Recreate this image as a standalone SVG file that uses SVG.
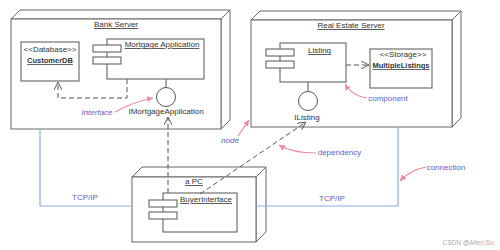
<svg xmlns="http://www.w3.org/2000/svg" width="500" height="250" viewBox="0 0 500 250">
<defs>
<style>
.nd{fill:#fff;stroke:#666;stroke-width:1}
.bx{fill:#fff;stroke:#555;stroke-width:1}
.t{font-family:"Liberation Sans",Arial,sans-serif;font-size:8px;fill:#333;text-anchor:middle}
.u{text-decoration:underline}
.b{font-weight:bold;font-size:7.5px}
.lb{font-family:"Liberation Sans",Arial,sans-serif;font-size:8px;fill:#5a64c8;text-anchor:middle}
.it{font-style:italic}
.dep{fill:none;stroke:#555;stroke-width:1;stroke-dasharray:5,3}
.con{fill:none;stroke:#8aaede;stroke-width:1.2}
.pk{fill:none;stroke:#e88ca2;stroke-width:1.2}
.wm{font-family:"Liberation Sans",Arial,sans-serif;font-size:6.5px;fill:#aaa;text-anchor:middle}
</style>
<marker id="open" viewBox="0 0 10 10" refX="10" refY="5" markerWidth="8" markerHeight="8" orient="auto" markerUnits="userSpaceOnUse">
<path d="M0,0 L10,5 L0,10" fill="none" stroke="#555" stroke-width="1.2"/>
</marker>
<marker id="pa" viewBox="0 0 10 10" refX="10" refY="5" markerWidth="6" markerHeight="6" orient="auto" markerUnits="userSpaceOnUse">
<path d="M0,0 L10,5 L0,10 Z" fill="#e88ca2"/>
</marker>
</defs>
<rect width="500" height="250" fill="#fff"/>

<g id="bank-server">
<path class="nd" d="M11,19 L20,10 L230,10 L221,19 Z"/>
<path class="nd" d="M221,19 L230,10 L230,120 L221,129 Z"/>
<rect class="nd" x="11" y="19" width="210" height="110"/>
<text class="t u" x="116" y="27">Bank Server</text>
</g>

<g id="customer-db">
<rect class="bx" x="21" y="42" width="58" height="39"/>
<text class="t" x="50" y="52">&lt;&lt;Database&gt;&gt;</text>
<text class="t u b" x="50" y="63">CustomerDB</text>
</g>

<g id="mortgage-application">
<rect class="bx" x="107" y="39" width="97" height="40"/>
<rect class="bx" x="93" y="45" width="28" height="7"/>
<rect class="bx" x="93" y="57" width="28" height="7"/>
<text class="t u" x="162" y="47">Mortgage Application</text>
</g>

<g id="imortgage-application">
<line x1="166" y1="79" x2="166" y2="88" stroke="#555"/>
<circle class="bx" cx="166" cy="97" r="9.5"/>
<text class="t" x="166" y="114">IMortgageApplication</text>
</g>

<g id="real-estate-server">
<path class="nd" d="M251,20 L260,11 L461,11 L452,20 Z"/>
<path class="nd" d="M452,20 L461,11 L461,118 L452,127 Z"/>
<rect class="nd" x="251" y="20" width="201" height="107"/>
<text class="t u" x="351" y="28">Real Estate Server</text>
</g>

<g id="listing">
<rect class="bx" x="280" y="43" width="66" height="39"/>
<rect class="bx" x="266" y="49" width="28" height="7"/>
<rect class="bx" x="266" y="61" width="28" height="7"/>
<text class="t u" x="319.5" y="53">Listing</text>
</g>

<g id="ilisting">
<line x1="308" y1="82" x2="308" y2="91" stroke="#555"/>
<circle class="bx" cx="308" cy="101" r="9.5"/>
<text class="t" x="307" y="120">IListing</text>
</g>

<g id="multiple-listings">
<rect class="bx" x="370" y="49" width="62" height="39"/>
<text class="t" x="403" y="57">&lt;&lt;Storage&gt;&gt;</text>
<text class="t u b" x="401" y="68">MultipleListings</text>
</g>

<g id="a-pc">
<path class="nd" d="M132,177 L142,167 L266,167 L256,177 Z"/>
<path class="nd" d="M256,177 L266,167 L266,232 L256,242 Z"/>
<rect class="nd" x="132" y="177" width="124" height="65"/>
<text class="t u" x="194" y="184">a PC</text>
</g>

<g id="buyer-interface">
<rect class="bx" x="163" y="193" width="74" height="39"/>
<rect class="bx" x="149" y="200" width="28" height="7"/>
<rect class="bx" x="149" y="212" width="28" height="7"/>
<text class="t u" x="206" y="202">BuyerInterface</text>
</g>

<g id="connectors">
<path class="dep" d="M127,79 L127,98 L58,98 L58,82" marker-end="url(#open)"/>
<path class="dep" d="M346,65 L369,65" marker-end="url(#open)"/>
<path class="dep" d="M168,193 L168,117" marker-end="url(#open)"/>
<path class="dep" d="M200,194 L306,122" marker-end="url(#open)"/>
<path class="con" d="M40,129 L40,206 L132,206"/>
<path class="con" d="M398,127 L398,206 L256,206"/>
<text class="lb" x="85" y="200">TCP/IP</text>
<text class="lb" x="332" y="201">TCP/IP</text>
</g>

<g id="annotations">
<path class="pk" d="M115,112 Q133,102 153,98" marker-end="url(#pa)"/>
<text class="lb it" x="97" y="115">Interface</text>
<path class="pk" d="M367,98 Q352,96 345,84" marker-end="url(#pa)"/>
<text class="lb" x="388" y="101">component</text>
<path class="pk" d="M238,136 L249,120" marker-end="url(#pa)"/>
<text class="lb it" x="230" y="143">node</text>
<path class="pk" d="M316,153 Q292,153 279,145" marker-end="url(#pa)"/>
<text class="lb" x="339.5" y="155">dependency</text>
<path class="pk" d="M426,167 Q410,170 400,181" marker-end="url(#pa)"/>
<text class="lb" x="446" y="170">connection</text>
<text class="wm" x="468" y="245">CSDN @Allen.Su</text>
</g>
</svg>
